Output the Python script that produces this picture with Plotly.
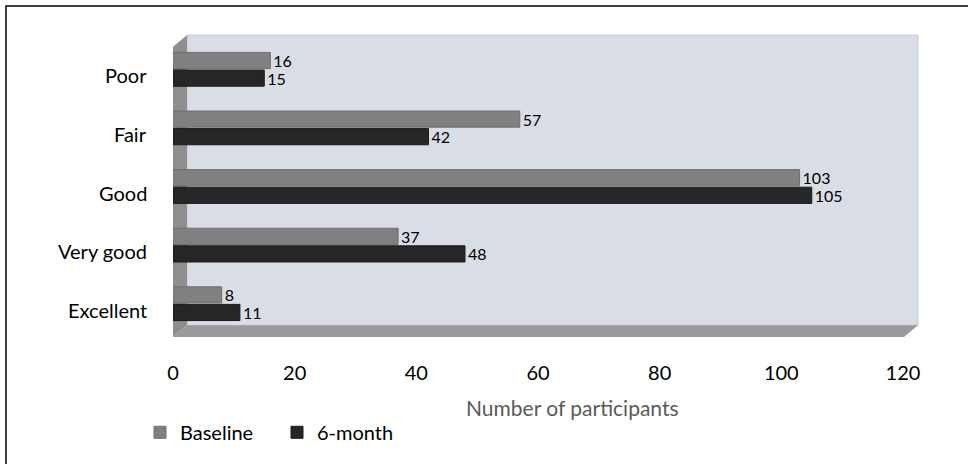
import plotly.graph_objects as go

# Self-rated health: participant counts at baseline and at 6 months
categories = ["Poor", "Fair", "Good", "Very good", "Excellent"]
baseline = [16, 57, 103, 37, 8]
six_month = [15, 42, 105, 48, 11]
x_ticks = [0, 20, 40, 60, 80, 100, 120]

W, H = 968, 464
L, R = 173, 903          # pixel extent of the value axis (0 .. 120)
T, B = 40, 341           # pixel extent of the category axis


def px(x):
    return (x - L) / (R - L)


def py(y):
    return (B - y) / (B - T)


def poly(points):
    return "M " + " L ".join(f"{px(x):.4f},{py(y):.4f}" for x, y in points) + " Z"


label_font = dict(family="Lato", size=16, color="#000000")

fig = go.Figure()
fig.add_trace(go.Bar(
    name="Baseline", y=categories, x=baseline, orientation="h",
    marker=dict(color="#808080", line=dict(color="#6e6e6e", width=1)),
    text=[str(v) for v in baseline], textposition="outside",
    textfont=label_font, constraintext="none", cliponaxis=False,
))
fig.add_trace(go.Bar(
    name="6-month", y=categories, x=six_month, orientation="h",
    marker=dict(color="#262626", line=dict(color="#1a1a1a", width=1)),
    text=[str(v) for v in six_month], textposition="outside",
    textfont=label_font, constraintext="none", cliponaxis=False,
))

shapes = [
    # back wall
    dict(type="path", xref="paper", yref="paper", layer="below",
         path=poly([(187, 35), (918, 35), (918, 333), (187, 333)]),
         fillcolor="#d9dde6", line=dict(color="#c4c8d0", width=1)),
    # left side wall
    dict(type="path", xref="paper", yref="paper", layer="below",
         path=poly([(173, 47), (187, 35), (187, 333), (173, 345)]),
         fillcolor="#8e8e8e", line=dict(width=0)),
    # floor
    dict(type="path", xref="paper", yref="paper", layer="below",
         path=poly([(173, 345), (187, 333), (918, 333), (904, 345)]),
         fillcolor="#9a9a9a", line=dict(width=0)),
    # frame around the figure
    dict(type="rect", xref="paper", yref="paper",
         x0=px(6), x1=px(990), y0=py(5), y1=py(490),
         line=dict(color="#000000", width=1.5), fillcolor="rgba(0,0,0,0)"),
]

annotations = [
    dict(text=c, xref="paper", yref="y", x=0, y=c, xanchor="right",
         yanchor="middle", xshift=-24, yshift=-6, showarrow=False,
         font=dict(family="Lato", size=20, color="#000000"))
    for c in categories
]
annotations.append(dict(
    text="Number of participants", xref="paper", yref="paper",
    x=px(572), y=py(418), xanchor="center", yanchor="middle",
    showarrow=False, font=dict(family="Lato", size=21, color="#5a5a5a"),
))

fig.update_layout(
    width=W, height=H,
    margin=dict(l=L, r=W - R, t=T, b=H - B),
    paper_bgcolor="#ffffff", plot_bgcolor="rgba(0,0,0,0)",
    barmode="group", bargap=0.40, bargroupgap=0.08,
    shapes=shapes, annotations=annotations,
    showlegend=True,
    legend=dict(orientation="h", x=px(140), y=py(443), xanchor="left",
                yanchor="middle", traceorder="normal",
                entrywidth=92, entrywidthmode="pixels",
                font=dict(family="Lato", size=20, color="#000000"),
                bgcolor="rgba(0,0,0,0)"),
    font=dict(family="Lato", size=20, color="#000000"),
)
fig.update_xaxes(range=[0, 120], tickvals=x_ticks, showgrid=False,
                 zeroline=False, showline=False, ticks="",
                 ticklabelstandoff=26,
                 tickfont=dict(family="Lato", size=20, color="#000000"))
fig.update_yaxes(type="category", categoryorder="array",
                 categoryarray=categories, autorange="reversed",
                 showticklabels=False, showgrid=False, zeroline=False,
                 showline=False, ticks="")

fig.write_html("out.html")
